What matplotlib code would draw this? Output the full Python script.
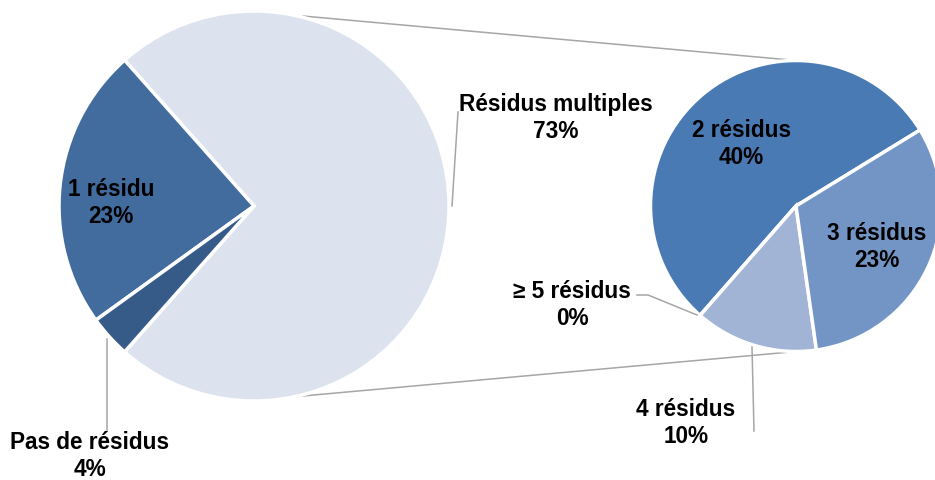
import matplotlib
matplotlib.use("Agg")
import matplotlib.pyplot as plt
import numpy as np

# ── Données ────────────────────────────────────────────────────────────────
main_labels = ["Résidus multiples", "1 résidu", "Pas de résidus"]
main_values = [73.1, 23.4, 3.5]
main_colors = ["#dce2ee", "#426c9e", "#375b88"]

sub_labels = ["2 résidus", "≥ 5 résidus", "4 résidus", "3 résidus"]
sub_values = [40, 0, 10, 23]
sub_colors = ["#4a7ab4", "#7f9acb", "#a2b4d6", "#7395c6"]

W, H = 935, 481
plt.rcParams["font.family"] = ["Liberation Sans", "DejaVu Sans"]

fig = plt.figure(figsize=(W / 100, H / 100), dpi=100)
ax = fig.add_axes([0, 0, 1, 1])

# ── Camembert principal ────────────────────────────────────────────────────
c1, r1 = (254, H - 207), 195
half = main_values[0] / sum(main_values) * 360 / 2
ax.pie(main_values, colors=main_colors, startangle=-half, center=c1, radius=r1,
       wedgeprops=dict(edgecolor="white", linewidth=2.5), frame=True)

# ── Camembert secondaire ───────────────────────────────────────────────────
c2, r2 = (796, H - 207), 145.5
ax.pie(sub_values, colors=sub_colors, startangle=31.5, center=c2, radius=r2,
       wedgeprops=dict(edgecolor="white", linewidth=2.5), frame=True)
ax.set_xlim(0, W)
ax.set_ylim(0, H)
ax.set_aspect("equal")
ax.axis("off")

# ── Lignes de liaison ──────────────────────────────────────────────────────
ang = np.deg2rad(78)
for s in (1, -1):
    x0 = c1[0] + r1 * np.cos(ang)
    y0 = c1[1] + s * r1 * np.sin(ang)
    ax.plot([x0, c2[0]], [y0, c2[1] + s * r2], color="#a6a6a6", lw=1.1, zorder=0)

# ── Étiquettes ─────────────────────────────────────────────────────────────
fs = 16.3
def lab(x, y, name, v):
    ax.text(x, H - y, f"{name}\n{v:.0f}%", ha="center", va="center",
            fontsize=fs, fontweight="bold", linespacing=1.25)

def leader(xs, ys):
    ax.plot(xs, [H - y for y in ys], color="#a6a6a6", lw=1.1)

lab(556, 118, main_labels[0], main_values[0])
leader([458, 452], [113, 207])
lab(111, 203, main_labels[1], main_values[1])
lab(90, 456, main_labels[2], main_values[2])
leader([107, 107], [340, 432])

lab(741, 144, sub_labels[0], sub_values[0])
lab(877, 247, sub_labels[3], sub_values[3])
lab(572, 305, sub_labels[1], sub_values[1])
leader([637, 648, 697], [296, 296, 316])
lab(686, 423, sub_labels[2], sub_values[2])
leader([752, 754], [348, 432])

fig.savefig("out.png", dpi=100)
